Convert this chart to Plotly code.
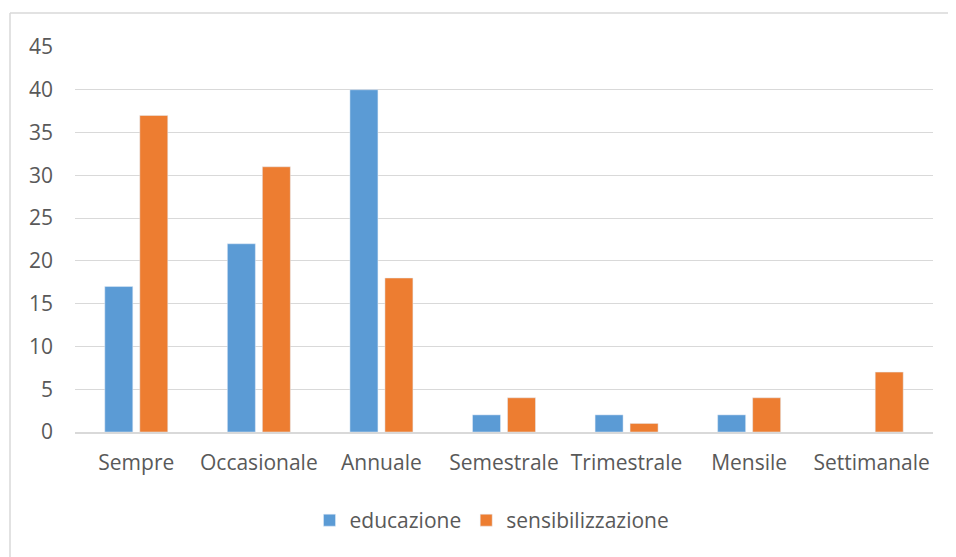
import plotly.graph_objects as go

categories = ["Sempre", "Occasionale", "Annuale", "Semestrale", "Trimestrale", "Mensile", "Settimanale"]
educazione = [17, 22, 40, 2, 2, 2, None]
sensibilizzazione = [37, 31, 18, 4, 1, 4, 7]
y_ticks = [0, 5, 10, 15, 20, 25, 30, 35, 40, 45]

font_family = "'Open Sans', Lato, sans-serif"
text_color = "#595959"
FS = 21

fig = go.Figure()
fig.add_trace(go.Bar(name="educazione", x=categories, y=educazione, marker_color="#5B9BD5"))
fig.add_trace(go.Bar(name="sensibilizzazione", x=categories, y=sensibilizzazione, marker_color="#ED7D31"))

# page has an 8px body margin; figure coordinates are page coordinates minus 8
OFF = 8
W, H = 956 - OFF, 557 - OFF
L, R, T, B = 75 - OFF, 933 - OFF, 46.5 - OFF, 432.3 - OFF
pw, ph = R - L, B - T
fig.update_layout(
    width=W, height=H,
    margin=dict(l=L, r=W - R, t=T, b=H - B, autoexpand=False),
    paper_bgcolor="white", plot_bgcolor="white",
    barmode="group", bargap=0.429, bargroupgap=0.2,
    font=dict(family=font_family, size=FS, color=text_color),
    showlegend=True,
    legend=dict(orientation="h", x=0.5 - 12 / pw, xanchor="center", y=(B - (521 - OFF)) / ph, yanchor="middle",
                font=dict(size=FS, color=text_color), itemwidth=30, traceorder="normal"),
    xaxis=dict(showgrid=False, showline=True, linecolor="#d9d9d9", linewidth=1.5,
               ticks="", ticklabelstandoff=11, tickfont=dict(size=FS, color=text_color)),
    yaxis=dict(range=[0, 45], tickvals=y_ticks, showgrid=True, gridcolor="#d9d9d9", gridwidth=1.3,
               zeroline=False, showline=False, ticks="", ticklabelstandoff=21,
               tickfont=dict(size=FS, color=text_color)),
)

# chart border (left and top edges)
bx = (10 - OFF - L) / pw
by = (B - (12.5 - OFF)) / ph
fig.add_shape(type="line", xref="paper", yref="paper", x0=bx, x1=bx, y0=by, y1=(B - H - 5) / ph,
              line=dict(color="#d9d9d9", width=1.5))
fig.add_shape(type="line", xref="paper", yref="paper", x0=bx, x1=(W + 5 - L) / pw, y0=by, y1=by,
              line=dict(color="#d9d9d9", width=1.5))

fig.write_html("out.html")
